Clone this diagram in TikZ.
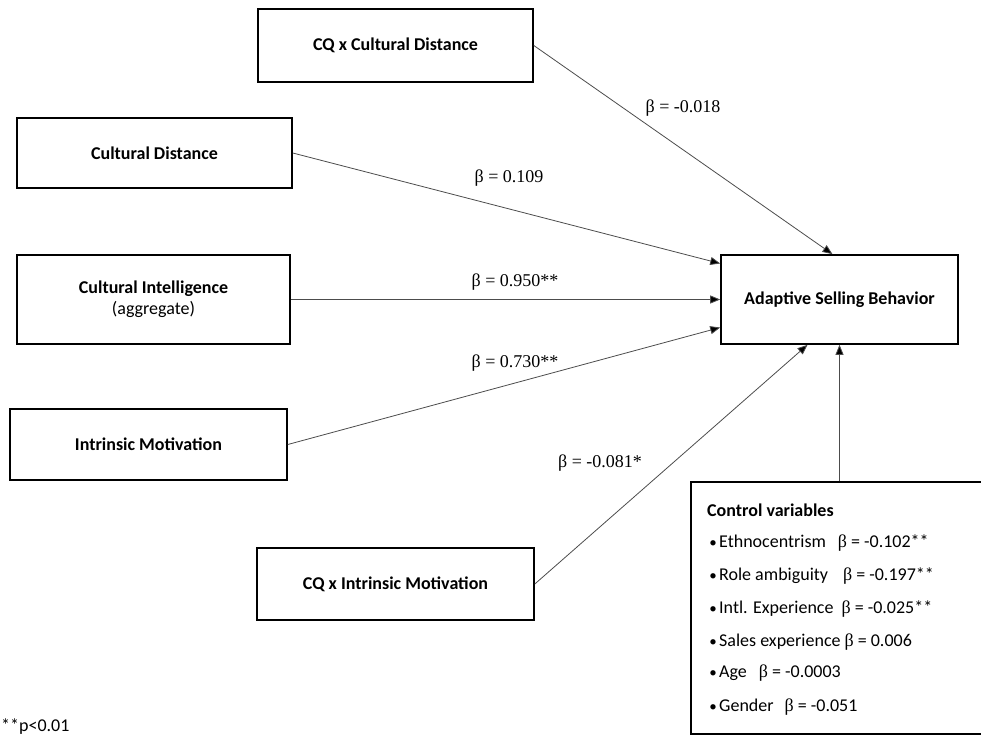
\documentclass[tikz,border=0pt]{standalone}
\usepackage{fontspec}
\setmainfont{Carlito}
\newfontfamily\tnr{Liberation Serif}
\usetikzlibrary{arrows.meta,calc}
\begin{document}
\begin{tikzpicture}[x=1pt,y=-1pt,
 box/.style={draw=black, line width=1.6pt, fill=white, inner sep=0pt, align=center,
   font=\fontsize{18}{22}\selectfont\bfseries},
 link/.style={draw=black!70, line width=0.8pt, -{Triangle[length=10pt,width=8pt,fill=black]}},
 beta/.style={font=\tnr\fontsize{18}{20}\selectfont, inner sep=0pt},
 ctl/.style={anchor=base west, inner sep=0pt, font=\fontsize{18}{20}\selectfont},
 bul/.style={anchor=base, inner sep=0pt, font=\fontsize{15}{18}\selectfont}]
\useasboundingbox (0,0) rectangle (981,735);
\clip (0,0) rectangle (981,735);

% boxes
\node[box, minimum width=275pt, minimum height=73pt] (cqcd) at (395.5,45.5) {CQ x Cultural Distance};
\node[box, minimum width=275pt, minimum height=70pt] (cd) at (154.5,153) {Cultural Distance};
\node[box, minimum width=273pt, minimum height=89pt] (ci) at (153.5,299.5) {Cultural Intelligence\\[-1pt]\mdseries (aggregate)};
\node[box, minimum width=277pt, minimum height=71pt] (im) at (148.5,444.5) {Intrinsic Motivation};
\node[box, minimum width=277pt, minimum height=72pt] (cqim) at (395.5,584) {CQ x Intrinsic Motivation};
\node[box, minimum width=237pt, minimum height=89pt] (asb) at (839.5,299.5) {Adaptive Selling Behavior};
\node[box, minimum width=309pt, minimum height=252pt] (ctrl) at (845.5,608) {};

% connectors
\draw[link] (cqcd.east) -- ([xshift=-7pt]asb.north);
\draw[link] (cd.east) -- ([yshift=36pt]asb.west);
\draw[link] (ci.east) -- (asb.west);
\draw[link] (im.east) -- ([yshift=-28pt]asb.west);
\draw[link] (cqim.east) -- ([xshift=-32pt]asb.south);
\draw[link] (asb.south |- ctrl.north) -- (asb.south);

% path coefficients
\node[beta] (b1) at (683,108) {β = -0.018};
\node[beta] (b2) at (509,178) {β = 0.109};
\node[beta] (b3) at (515,282) {β = 0.950**};
\node[beta] (b4) at (515,363) {β = 0.730**};
\node[beta] (b5) at (600,463) {β = -0.081*};

% control variables
\node[ctl, font=\fontsize{18}{20}\selectfont\bfseries] (c0) at (707,516) {Control variables};
\node[ctl] (c1) at (719,547) {Ethnocentrism\hspace{12pt}{\tnr β} = -0.102**};
\node[ctl] (c2) at (719,580.5) {Role ambiguity\hspace{15pt}{\tnr β} = -0.197**};
\node[ctl] (c3) at (719,613) {Intl. Experience\hspace{8pt}{\tnr β} = -0.025**};
\node[ctl] (c4) at (719,646.5) {Sales experience\hspace{4pt}{\tnr β} = 0.006};
\node[ctl] (c5) at (719,677.5) {Age\hspace{12pt}{\tnr β} = -0.0003};
\node[ctl] (c6) at (719,711) {Gender\hspace{11pt}{\tnr β} = -0.051};
\foreach \yy [count=\k] in {547,580.5,613,646.5,677.5,711}
  \node[bul] (d\k) at (713,\yy) {•};

% note
\node[ctl] (note) at (1,731) {**p<0.01};
\end{tikzpicture}
\end{document}
